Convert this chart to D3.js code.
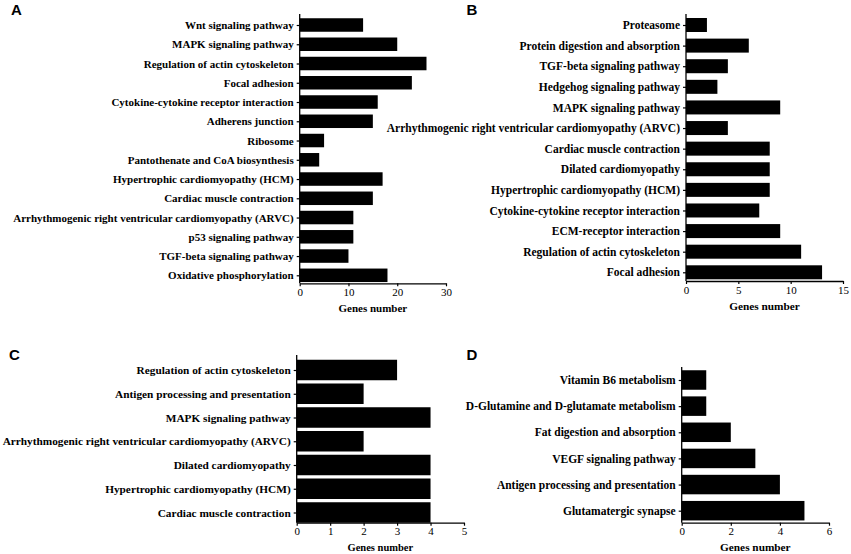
<!DOCTYPE html>
<meta charset="utf-8">
<script src="https://d3js.org/d3.v7.min.js"></script>
<style>
  body { margin: 0; background: #fff; }
</style>
<svg id="chart" width="851" height="554"></svg>

<script>
    // panel A
    var catsA = ["Wnt signaling pathway", "MAPK signaling pathway", "Regulation of actin cytoskeleton",
        "Focal adhesion", "Cytokine-cytokine receptor interaction", "Adherens junction", "Ribosome",
        "Pantothenate and CoA biosynthesis", "Hypertrophic cardiomyopathy (HCM)", "Cardiac muscle contraction",
        "Arrhythmogenic right ventricular cardiomyopathy (ARVC)", "p53 signaling pathway",
        "TGF-beta signaling pathway", "Oxidative phosphorylation"];
    var valsA = [13, 20, 26, 23, 16, 15, 5, 4, 17, 15, 11, 11, 10, 18];
    var ticksA = [0, 10, 20, 30];

    // panel B
    var catsB = ["Proteasome", "Protein digestion and absorption", "TGF-beta signaling pathway",
        "Hedgehog signaling pathway", "MAPK signaling pathway",
        "Arrhythmogenic right ventricular cardiomyopathy (ARVC)", "Cardiac muscle contraction",
        "Dilated cardiomyopathy", "Hypertrophic cardiomyopathy (HCM)", "Cytokine-cytokine receptor interaction",
        "ECM-receptor interaction", "Regulation of actin cytoskeleton", "Focal adhesion"];
    var valsB = [2, 6, 4, 3, 9, 4, 8, 8, 8, 7, 9, 11, 13];
    var ticksB = [0, 5, 10, 15];

    // panel C
    var catsC = ["Regulation of actin cytoskeleton", "Antigen processing and presentation",
        "MAPK signaling pathway", "Arrhythmogenic right ventricular cardiomyopathy (ARVC)",
        "Dilated cardiomyopathy", "Hypertrophic cardiomyopathy (HCM)", "Cardiac muscle contraction"];
    var valsC = [3, 2, 4, 2, 4, 4, 4];
    var ticksC = [0, 1, 2, 3, 4, 5];

    // panel D
    var catsD = ["Vitamin B6 metabolism", "D-Glutamine and D-glutamate metabolism",
        "Fat digestion and absorption", "VEGF signaling pathway",
        "Antigen processing and presentation", "Glutamatergic synapse"];
    var valsD = [1, 1, 2, 3, 4, 5];
    var ticksD = [0, 2, 4, 6];

    var serif = "'Liberation Serif', 'Times New Roman', serif";
    var svg = d3.select("#chart");

    function panel(letter, lx, ly, cats, vals, ticks, box) {
        var g = svg.append("g");

        g.append("text")
            .attr("x", lx).attr("y", ly)
            .style("font-family", "'Liberation Sans', Arial, sans-serif")
            .style("font-weight", "bold")
            .style("font-size", "15px")
            .text(letter);

        var x = d3.scaleLinear()
            .domain([0, ticks[ticks.length - 1]])
            .range([box.x0, box.x1]);

        var y = d3.scalePoint()
            .domain(cats)
            .range([box.c0, box.c1]);

        // bars
        g.selectAll("rect")
            .data(vals)
            .enter().append("rect")
            .attr("x", x(0))
            .attr("y", (d, i) => y(cats[i]) - box.bh / 2)
            .attr("width", d => x(d) - x(0))
            .attr("height", box.bh)
            .attr("fill", "#000");

        // y axis (ticks + labels from the axis, line drawn to the top)
        var ya = g.append("g")
            .attr("transform", "translate(" + x(0) + ",0)")
            .call(d3.axisLeft(y).tickSize(3).tickPadding(3));
        ya.attr("font-family", null);
        ya.select(".domain").remove();
        ya.selectAll("line").attr("stroke", "#000").attr("stroke-width", 1.2);
        ya.selectAll("text")
            .attr("fill", "#000")
            .style("font-family", serif)
            .style("font-size", box.fs + "px")
            .style("font-weight", "bold");
        g.append("line")
            .attr("x1", x(0)).attr("x2", x(0))
            .attr("y1", box.top).attr("y2", box.axisY)
            .attr("stroke", "#000").attr("stroke-width", 1.3);

        // x axis
        var xa = g.append("g")
            .attr("transform", "translate(0," + box.axisY + ")")
            .call(d3.axisBottom(x).tickValues(ticks).tickFormat(d3.format("d"))
                .tickSize(3).tickSizeOuter(0).tickPadding(2));
        xa.attr("font-family", null);
        xa.select(".domain").attr("stroke", "#000").attr("stroke-width", 1.3);
        xa.selectAll("line").attr("stroke", "#000").attr("stroke-width", 1.2);
        xa.selectAll("text")
            .attr("fill", "#000")
            .style("font-family", serif)
            .style("font-size", "11px");

        g.append("text")
            .attr("x", (box.x0 + box.x1) / 2)
            .attr("y", box.axisY + 28.5)
            .attr("text-anchor", "middle")
            .style("font-family", serif)
            .style("font-size", box.tfs + "px")
            .style("font-weight", "bold")
            .text("Genes number");
    }

    panel("A", 11, 14.5, catsA, valsA, ticksA,
        { x0: 299.7, x1: 446, top: 14, axisY: 283.3, c0: 25, c1: 275.3, bh: 13.5, fs: 11, tfs: 11 });
    panel("B", 466.5, 15, catsB, valsB, ticksB,
        { x0: 686, x1: 843, top: 14, axisY: 281, c0: 25, c1: 272.3, bh: 14, fs: 11.5, tfs: 11.3 });
    panel("C", 9, 360, catsC, valsC, ticksC,
        { x0: 296.7, x1: 464, top: 355, axisY: 522.7, c0: 370, c1: 512.5, bh: 20.5, fs: 11.3, tfs: 10.5 });
    panel("D", 466.5, 360, catsD, valsD, ticksD,
        { x0: 681.7, x1: 829, top: 367, axisY: 522.7, c0: 380, c1: 510.7, bh: 19.5, fs: 11.5, tfs: 11.3 });
</script>
